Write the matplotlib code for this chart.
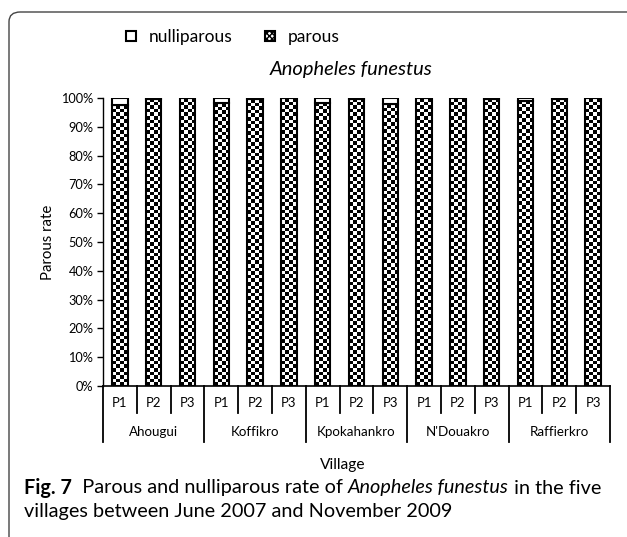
import numpy as np
import matplotlib
matplotlib.use("Agg")
import matplotlib.pyplot as plt
from matplotlib.patches import Patch, FancyBboxPatch
from matplotlib.transforms import blended_transform_factory

plt.rcParams['font.family'] = ['Lato', 'DejaVu Sans']

villages = ["Ahougui", "Koffikro", "Kpokahankro", "N'Douakro", "Raffierkro"]
periods = ["P1", "P2", "P3"]
# nulliparous share (%) per village and period
nulliparous = [2.5, 0.3, 0.0,
               1.8, 0.5, 0.0,
               1.7, 0.3, 2.2,
               0.0, 0.0, 0.2,
               1.0, 0.3, 0.0]
parous = [100 - v for v in nulliparous]

W, H = 627, 537
fig = plt.figure(figsize=(W / 100, H / 100), dpi=100)
ax = fig.add_axes([103 / W, 1 - 386 / H, 507 / W, 288 / H])

x = np.arange(len(parous))
bw = 0.45
pbars = ax.bar(x, parous, bw, facecolor='none', edgecolor='black', linewidth=1.5, zorder=3)
ax.bar(x, nulliparous, bw, bottom=parous, color='white', edgecolor='black',
       linewidth=1.5, zorder=3)

# checkerboard texture clipped into each parous bar
sq = 3.6  # square size in px
px_per_x = 507 / 15
px_per_y = 288 / 100
for b in pbars:
    x0, w, h = b.get_x(), b.get_width(), b.get_height()
    nx = max(1, int(round(w * px_per_x / sq)))
    ny = max(1, int(round(h * px_per_y / sq)))
    chk = (np.add.outer(np.arange(ny), np.arange(nx)) % 2).astype(float)
    im = ax.imshow(chk, cmap='gray', vmin=0, vmax=1, extent=(x0, x0 + w, 0, h),
                   origin='lower', interpolation='nearest', aspect='auto', zorder=2)
    im.set_clip_path(b)

ax.set_xlim(-0.5, len(parous) - 0.5)
ax.set_ylim(0, 100)
ax.set_yticks(np.arange(0, 101, 10))
ax.set_yticklabels([f"{v}%" for v in range(0, 101, 10)], fontsize=9.2)
ax.tick_params(axis='y', direction='out', length=4, width=1, pad=3)
ax.set_xticks([])
for s in ['top', 'right']:
    ax.spines[s].set_visible(False)
ax.spines['left'].set_linewidth(1)
ax.spines['bottom'].set_linewidth(1.2)
ax.set_ylabel("Parous rate", fontsize=10.8, labelpad=4)

# two-level category axis
tr = blended_transform_factory(ax.transData, ax.transAxes)
lvl1 = -27 / 288
lvl2 = -56 / 288
for i in range(len(parous) + 1):
    edge = i - 0.5
    yend = lvl2 if i % 3 == 0 else lvl1
    ax.plot([edge, edge], [0, yend], color='black', lw=1.3, transform=tr, clip_on=False)
for i, xi in enumerate(x):
    ax.text(xi, -17 / 288, periods[i % 3], transform=tr, ha='center', va='center', fontsize=9.4)
for j, v in enumerate(villages):
    ax.text(3 * j + 1, -46 / 288, v, transform=tr, ha='center', va='center', fontsize=9.6)
fig.text(343 / W, 1 - 465 / H, "Village", ha='center', va='center', fontsize=11.2)

fig.text(351 / W, 1 - 69 / H, "Anopheles funestus", ha='center', va='center',
         fontsize=14.5, style='italic')

handles = [Patch(facecolor='white', edgecolor='black', linewidth=1.5),
           Patch(facecolor='white', edgecolor='black', linewidth=1.5, hatch='xxxxxx')]
fig.legend(handles, ['nulliparous', 'parous'], loc='center left',
           bbox_to_anchor=(126 / W, 1 - 37 / H), ncol=2, frameon=False, fontsize=12.5,
           handlelength=0.55, handleheight=0.55, columnspacing=1.9, handletextpad=0.75,
           borderpad=0, borderaxespad=0)

# outer frame
frame = FancyBboxPatch((9 / W, -20 / H), 660 / W, (H - 12 + 20) / H,
                       boxstyle="round,pad=0,rounding_size=0.018", transform=fig.transFigure,
                       facecolor='none', edgecolor='#444444', linewidth=1.0, clip_on=False)
fig.patches.append(frame)

# caption with mixed styles
cap_fs = 14.3
fig.canvas.draw()
rend = fig.canvas.get_renderer()


def write_pieces(pieces, x0, y0):
    xp = x0
    for txt, kw in pieces:
        t = fig.text(xp / W, 1 - y0 / H, txt, ha='left', va='center', fontsize=cap_fs, **kw)
        xp += t.get_window_extent(renderer=rend).width


write_pieces([("Fig. 7", {'weight': 'bold'}), ("  Parous and nulliparous rate of ", {}),
              ("Anopheles funestus", {'style': 'italic'}), (" in the five", {})], 24, 488)
write_pieces([("villages between June 2007 and November 2009", {})], 24, 511)

fig.savefig("out.png", dpi=100)
